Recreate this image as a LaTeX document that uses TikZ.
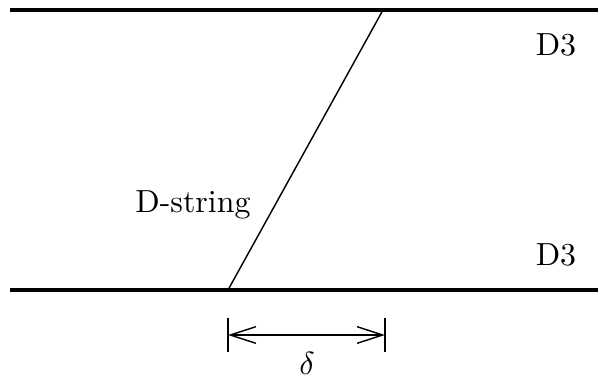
\documentclass[tikz,border=0pt]{standalone}
\usepackage{tikz}
\usetikzlibrary{arrows.meta}
\tikzset{
  brane/.style={line width=1.3pt},
  dstring/.style={line width=0.45pt},
  lbl/.style={inner sep=0pt},
  tick/.style={line width=0.45pt},
  dimarc/.style={{Straight Barb[length=8pt,width=5.2pt]}-{Straight Barb[length=8pt,width=5.2pt]}, line width=0.45pt}
}
\begin{document}
\begin{tikzpicture}[x=0.011cm, y=-0.011cm]
  \useasboundingbox (0,0) rectangle (598,377);
  % branes
  \coordinate (tl) at (10,10);
  \coordinate (tr) at (598,10);
  \coordinate (bl) at (10,290);
  \coordinate (br) at (598,290);
  \draw[brane] (tl) -- (tr);
  \draw[brane] (bl) -- (br);
  \node[lbl] (d3top) at (556,45) {D3};
  \node[lbl] (d3bot) at (556,255) {D3};

  % the string
  \coordinate (sa) at (228,290);
  \coordinate (sb) at (383,10);
  \draw[dstring] (sa) -- (sb);
  \node[lbl] (slbl) at (193,205) {D-string};

  % separation
  \coordinate (ta) at (228,318);
  \coordinate (tb) at (228,352);
  \coordinate (tc) at (385,318);
  \coordinate (td) at (385,352);
  \coordinate (aa) at (228,335);
  \coordinate (ab) at (385,335);
  \draw[tick] (ta) -- (tb);
  \draw[tick] (tc) -- (td);
  \draw[dimarc] (aa) -- (ab);
  \node[lbl] (dlbl) at (307,363) {$\delta$};
\end{tikzpicture}
\end{document}
